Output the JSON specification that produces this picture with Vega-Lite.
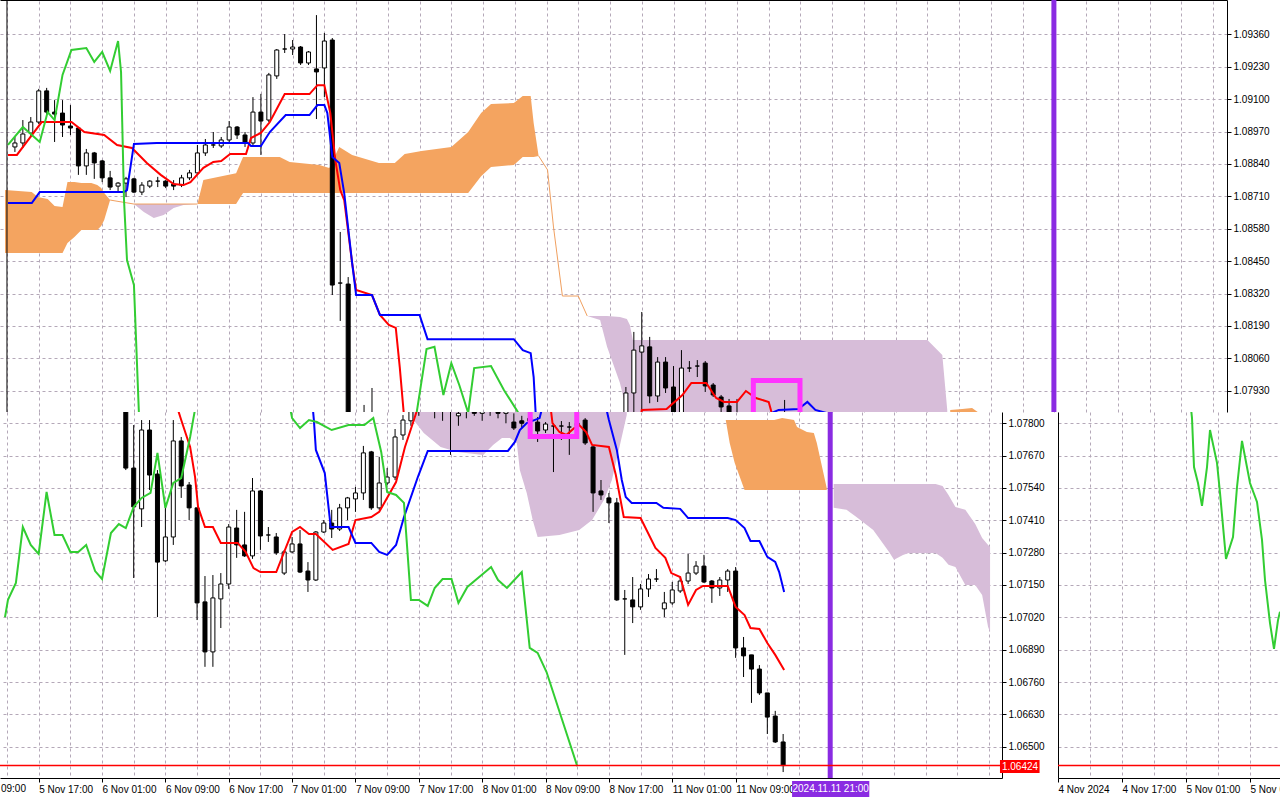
{
  "$schema": "https://vega.github.io/schema/vega-lite/v6.json",
  "background": "white",
  "padding": 0,
  "spacing": 0,
  "bounds": "flush",
  "config": {
    "view": {"stroke": null},
    "axis": {
      "title": null,
      "labelFont": "Liberation Sans",
      "labelFontSize": 10,
      "labelColor": "#000",
      "domainColor": "#000",
      "tickColor": "#000",
      "gridColor": "#b4a8b8",
      "gridDash": [3, 3],
      "gridOpacity": 1,
      "labelFlush": false,
      "labelOverlap": false,
      "tickCount": 200
    }
  },
  "datasets": {
    "topC": [
      {"x": 1, "o": 1.08908, "h": 1.08948, "l": 1.08888, "c": 1.08924},
      {"x": 2, "o": 1.08924, "h": 1.09016, "l": 1.08904, "c": 1.0896},
      {"x": 3, "o": 1.08964, "h": 1.09028, "l": 1.08952, "c": 1.09008},
      {"x": 4, "o": 1.09008, "h": 1.09141, "l": 1.09, "c": 1.09133},
      {"x": 5, "o": 1.09133, "h": 1.09145, "l": 1.09036, "c": 1.09048},
      {"x": 6, "o": 1.09048, "h": 1.09096, "l": 1.08928, "c": 1.0904},
      {"x": 7, "o": 1.09044, "h": 1.09096, "l": 1.08948, "c": 1.08996},
      {"x": 8, "o": 1.08992, "h": 1.09076, "l": 1.08956, "c": 1.08984},
      {"x": 9, "o": 1.08984, "h": 1.08988, "l": 1.08796, "c": 1.08832},
      {"x": 10, "o": 1.08832, "h": 1.089, "l": 1.08796, "c": 1.08884},
      {"x": 11, "o": 1.08884, "h": 1.08888, "l": 1.0878, "c": 1.08844},
      {"x": 12, "o": 1.08852, "h": 1.08856, "l": 1.08767, "c": 1.08784},
      {"x": 13, "o": 1.08784, "h": 1.08812, "l": 1.08735, "c": 1.08747},
      {"x": 14, "o": 1.08751, "h": 1.08767, "l": 1.08727, "c": 1.08763},
      {"x": 15, "o": 1.08763, "h": 1.08788, "l": 1.08707, "c": 1.0878},
      {"x": 16, "o": 1.0878, "h": 1.08784, "l": 1.08723, "c": 1.08727},
      {"x": 17, "o": 1.08727, "h": 1.08767, "l": 1.08715, "c": 1.08755},
      {"x": 18, "o": 1.08751, "h": 1.08775, "l": 1.08743, "c": 1.08771},
      {"x": 19, "o": 1.08771, "h": 1.08788, "l": 1.08747, "c": 1.08771},
      {"x": 20, "o": 1.08771, "h": 1.08775, "l": 1.08743, "c": 1.08751},
      {"x": 21, "o": 1.08759, "h": 1.08775, "l": 1.08735, "c": 1.08751},
      {"x": 22, "o": 1.08755, "h": 1.08796, "l": 1.08747, "c": 1.08784},
      {"x": 23, "o": 1.08784, "h": 1.08816, "l": 1.08775, "c": 1.08804},
      {"x": 24, "o": 1.08804, "h": 1.08916, "l": 1.08796, "c": 1.08884},
      {"x": 25, "o": 1.08884, "h": 1.0894, "l": 1.08872, "c": 1.08916},
      {"x": 26, "o": 1.08916, "h": 1.08968, "l": 1.08904, "c": 1.08916},
      {"x": 27, "o": 1.08912, "h": 1.08948, "l": 1.08904, "c": 1.08936},
      {"x": 28, "o": 1.08936, "h": 1.09012, "l": 1.08928, "c": 1.08988},
      {"x": 29, "o": 1.08988, "h": 1.08992, "l": 1.0894, "c": 1.08956},
      {"x": 30, "o": 1.08956, "h": 1.08968, "l": 1.08908, "c": 1.08928},
      {"x": 31, "o": 1.08924, "h": 1.09108, "l": 1.08908, "c": 1.09048},
      {"x": 32, "o": 1.09048, "h": 1.09121, "l": 1.08876, "c": 1.09012},
      {"x": 33, "o": 1.09016, "h": 1.09205, "l": 1.09008, "c": 1.09197},
      {"x": 34, "o": 1.09193, "h": 1.09301, "l": 1.09181, "c": 1.09297},
      {"x": 35, "o": 1.09301, "h": 1.09361, "l": 1.09285, "c": 1.09301},
      {"x": 36, "o": 1.09301, "h": 1.09337, "l": 1.09277, "c": 1.09309},
      {"x": 37, "o": 1.09309, "h": 1.09313, "l": 1.09237, "c": 1.09245},
      {"x": 38, "o": 1.09245, "h": 1.09293, "l": 1.09237, "c": 1.09289},
      {"x": 39, "o": 1.09221, "h": 1.09437, "l": 1.0902, "c": 1.09209},
      {"x": 40, "o": 1.09225, "h": 1.09365, "l": 1.09108, "c": 1.09333},
      {"x": 41, "o": 1.09337, "h": 1.09345, "l": 1.08314, "c": 1.08354},
      {"x": 42, "o": 1.08362, "h": 1.08567, "l": 1.0821, "c": 1.08362},
      {"x": 43, "o": 1.08358, "h": 1.08386, "l": 1.0775, "c": 1.078},
      {"x": 44, "o": 1.0779, "h": 1.0781, "l": 1.0772, "c": 1.0775},
      {"x": 45, "o": 1.0775, "h": 1.07873, "l": 1.077, "c": 1.0778},
      {"x": 46, "o": 1.0776, "h": 1.07941, "l": 1.077, "c": 1.0778},
      {"x": 78, "o": 1.07833, "h": 1.07945, "l": 1.078, "c": 1.07921},
      {"x": 79, "o": 1.07921, "h": 1.08166, "l": 1.07833, "c": 1.08093},
      {"x": 80, "o": 1.08085, "h": 1.08246, "l": 1.07833, "c": 1.0811},
      {"x": 81, "o": 1.08106, "h": 1.08146, "l": 1.0788, "c": 1.07909},
      {"x": 82, "o": 1.07909, "h": 1.08065, "l": 1.07885, "c": 1.08045},
      {"x": 83, "o": 1.08045, "h": 1.08065, "l": 1.07921, "c": 1.07941},
      {"x": 84, "o": 1.07945, "h": 1.08029, "l": 1.078, "c": 1.07833},
      {"x": 85, "o": 1.07833, "h": 1.08093, "l": 1.078, "c": 1.08021},
      {"x": 86, "o": 1.08021, "h": 1.08049, "l": 1.08005, "c": 1.08021},
      {"x": 87, "o": 1.08029, "h": 1.08053, "l": 1.07985, "c": 1.08029},
      {"x": 88, "o": 1.08041, "h": 1.08049, "l": 1.07925, "c": 1.07949},
      {"x": 89, "o": 1.07953, "h": 1.07961, "l": 1.07905, "c": 1.07913},
      {"x": 90, "o": 1.07905, "h": 1.07913, "l": 1.07841, "c": 1.07865},
      {"x": 91, "o": 1.07869, "h": 1.07897, "l": 1.078, "c": 1.07841},
      {"x": 92, "o": 1.0784, "h": 1.07897, "l": 1.078, "c": 1.0783},
      {"x": 98, "o": 1.0783, "h": 1.07893, "l": 1.078, "c": 1.0782}
    ],
    "topL": [
      {"s": "r", "x": 0.125, "y": 1.08876}, {"s": "r", "x": 1.25, "y": 1.08876}, {"s": "r", "x": 4.375, "y": 1.09008},
      {"s": "r", "x": 8.125, "y": 1.09008}, {"s": "r", "x": 9.75, "y": 1.08968}, {"s": "r", "x": 12.25, "y": 1.08956},
      {"s": "r", "x": 13.875, "y": 1.08916}, {"s": "r", "x": 15.75, "y": 1.08904}, {"s": "r", "x": 17.625, "y": 1.08844},
      {"s": "r", "x": 19.375, "y": 1.08796}, {"s": "r", "x": 21, "y": 1.08759}, {"s": "r", "x": 22.25, "y": 1.08755},
      {"s": "r", "x": 23.125, "y": 1.08767}, {"s": "r", "x": 24.75, "y": 1.08824}, {"s": "r", "x": 26, "y": 1.08848},
      {"s": "r", "x": 27, "y": 1.08852}, {"s": "r", "x": 28.125, "y": 1.0888}, {"s": "r", "x": 30.125, "y": 1.0888},
      {"s": "r", "x": 30.75, "y": 1.08944}, {"s": "r", "x": 32, "y": 1.08964}, {"s": "r", "x": 33.125, "y": 1.09008},
      {"s": "r", "x": 35, "y": 1.0912}, {"s": "r", "x": 38.125, "y": 1.0912}, {"s": "r", "x": 39.125, "y": 1.09156},
      {"s": "r", "x": 40, "y": 1.09156}, {"s": "r", "x": 40.75, "y": 1.09044}, {"s": "r", "x": 41.375, "y": 1.08856},
      {"s": "r", "x": 42, "y": 1.08735}, {"s": "r", "x": 42.5, "y": 1.08695}, {"s": "r", "x": 43.5, "y": 1.08442},
      {"s": "r", "x": 44, "y": 1.08334}, {"s": "r", "x": 46, "y": 1.08314}, {"s": "r", "x": 47, "y": 1.08234},
      {"s": "r", "x": 48.125, "y": 1.08194}, {"s": "r", "x": 49, "y": 1.08182}, {"s": "r", "x": 49.5, "y": 1.08025},
      {"s": "r", "x": 50, "y": 1.07841}, {"s": "r", "x": 50.25, "y": 1.0773}, {"s": "r", "x": 79.5, "y": 1.0773},
      {"s": "r", "x": 80, "y": 1.07853}, {"s": "r", "x": 83.125, "y": 1.07857}, {"s": "r", "x": 85.125, "y": 1.07913},
      {"s": "r", "x": 86.25, "y": 1.07961}, {"s": "r", "x": 88.125, "y": 1.07961}, {"s": "r", "x": 89.375, "y": 1.07901},
      {"s": "r", "x": 90.375, "y": 1.07885}, {"s": "r", "x": 92, "y": 1.07885}, {"s": "r", "x": 93.125, "y": 1.07929},
      {"s": "r", "x": 94.375, "y": 1.07901}, {"s": "r", "x": 96, "y": 1.07885}, {"s": "r", "x": 96.375, "y": 1.07841},
      {"s": "r", "x": 96.75, "y": 1.0773},
      {"s": "b", "x": 0.125, "y": 1.08683}, {"s": "b", "x": 3.125, "y": 1.08683}, {"s": "b", "x": 4.125, "y": 1.08727},
      {"s": "b", "x": 14.75, "y": 1.08727}, {"s": "b", "x": 15.125, "y": 1.08735}, {"s": "b", "x": 16, "y": 1.0892},
      {"s": "b", "x": 18.875, "y": 1.08924}, {"s": "b", "x": 30.375, "y": 1.08924}, {"s": "b", "x": 30.75, "y": 1.08912},
      {"s": "b", "x": 32, "y": 1.08912}, {"s": "b", "x": 33.125, "y": 1.08968}, {"s": "b", "x": 35.125, "y": 1.09036},
      {"s": "b", "x": 38.125, "y": 1.09036}, {"s": "b", "x": 39.125, "y": 1.09076}, {"s": "b", "x": 40, "y": 1.09076},
      {"s": "b", "x": 40.375, "y": 1.09044}, {"s": "b", "x": 41, "y": 1.08868}, {"s": "b", "x": 41.875, "y": 1.08844},
      {"s": "b", "x": 42.5, "y": 1.08723}, {"s": "b", "x": 43.5, "y": 1.08442}, {"s": "b", "x": 44, "y": 1.08314},
      {"s": "b", "x": 46, "y": 1.08314}, {"s": "b", "x": 47, "y": 1.08234}, {"s": "b", "x": 52, "y": 1.08234},
      {"s": "b", "x": 53, "y": 1.08137}, {"s": "b", "x": 63.875, "y": 1.08137}, {"s": "b", "x": 65, "y": 1.08093},
      {"s": "b", "x": 66, "y": 1.08081}, {"s": "b", "x": 66.375, "y": 1.07985}, {"s": "b", "x": 66.625, "y": 1.07841},
      {"s": "b", "x": 66.875, "y": 1.0773}, {"s": "b", "x": 96, "y": 1.0773}, {"s": "b", "x": 96.375, "y": 1.07841},
      {"s": "b", "x": 97.25, "y": 1.07853}, {"s": "b", "x": 99.75, "y": 1.07857}, {"s": "b", "x": 100.875, "y": 1.07885},
      {"s": "b", "x": 101.875, "y": 1.07853}, {"s": "b", "x": 103.25, "y": 1.07841}, {"s": "b", "x": 103.5, "y": 1.0773},
      {"s": "g", "x": 0.125, "y": 1.08916}, {"s": "g", "x": 2, "y": 1.08988}, {"s": "g", "x": 4.125, "y": 1.08928},
      {"s": "g", "x": 5.125, "y": 1.09048}, {"s": "g", "x": 6, "y": 1.09016}, {"s": "g", "x": 7, "y": 1.09197},
      {"s": "g", "x": 8.125, "y": 1.09297}, {"s": "g", "x": 10, "y": 1.09305}, {"s": "g", "x": 11, "y": 1.09249},
      {"s": "g", "x": 12, "y": 1.09289}, {"s": "g", "x": 13, "y": 1.09213}, {"s": "g", "x": 14, "y": 1.09333},
      {"s": "g", "x": 14.375, "y": 1.09209}, {"s": "g", "x": 14.75, "y": 1.08695}, {"s": "g", "x": 15.125, "y": 1.08454},
      {"s": "g", "x": 16, "y": 1.08354}, {"s": "g", "x": 16.625, "y": 1.07841}, {"s": "g", "x": 16.875, "y": 1.0773},
      {"s": "g", "x": 51.375, "y": 1.0773}, {"s": "g", "x": 51.625, "y": 1.07841}, {"s": "g", "x": 52.875, "y": 1.08097},
      {"s": "g", "x": 53.875, "y": 1.08106}, {"s": "g", "x": 55, "y": 1.07913}, {"s": "g", "x": 56, "y": 1.08041},
      {"s": "g", "x": 57, "y": 1.07953}, {"s": "g", "x": 58.125, "y": 1.07841}, {"s": "g", "x": 58.875, "y": 1.08021},
      {"s": "g", "x": 61, "y": 1.08029}, {"s": "g", "x": 62.625, "y": 1.07933}, {"s": "g", "x": 64.375, "y": 1.07845},
      {"s": "g", "x": 64.75, "y": 1.0773}
    ],
    "topThin": [
      {"s": "o1", "x": 13, "y": 1.08695}, {"s": "o1", "x": 16, "y": 1.08679}, {"s": "o1", "x": 24, "y": 1.08679},
      {"s": "o2", "x": 67, "y": 1.08872}, {"s": "o2", "x": 68.125, "y": 1.08816}, {"s": "o2", "x": 68.875, "y": 1.08587},
      {"s": "o2", "x": 70, "y": 1.0831}, {"s": "o2", "x": 72, "y": 1.0831}, {"s": "o2", "x": 73.125, "y": 1.0823}
    ],
    "topA": [
      {"g": "t1", "t": "up", "x": -0.25, "y": 1.08735, "y2": 1.08483},
      {"g": "t1", "t": "up", "x": 3.125, "y": 1.08727, "y2": 1.08483},
      {"g": "t1", "t": "up", "x": 3.875, "y": 1.08707, "y2": 1.08483},
      {"g": "t1", "t": "up", "x": 5.125, "y": 1.08699, "y2": 1.08483},
      {"g": "t1", "t": "up", "x": 6, "y": 1.08671, "y2": 1.08483},
      {"g": "t1", "t": "up", "x": 7, "y": 1.08667, "y2": 1.08483},
      {"g": "t1", "t": "up", "x": 7.625, "y": 1.08767, "y2": 1.08523},
      {"g": "t1", "t": "up", "x": 8.5, "y": 1.08767, "y2": 1.08547},
      {"g": "t1", "t": "up", "x": 9.375, "y": 1.08763, "y2": 1.08575},
      {"g": "t1", "t": "up", "x": 10.625, "y": 1.08763, "y2": 1.08575},
      {"g": "t1", "t": "up", "x": 11.375, "y": 1.08755, "y2": 1.08575},
      {"g": "t1", "t": "up", "x": 11.875, "y": 1.08743, "y2": 1.08591},
      {"g": "t1", "t": "up", "x": 12.25, "y": 1.08723, "y2": 1.08615},
      {"g": "t1", "t": "up", "x": 13, "y": 1.08695, "y2": 1.08695},
      {"g": "t2", "t": "dn", "x": 16, "y": 1.08679, "y2": 1.08679},
      {"g": "t2", "t": "dn", "x": 17.25, "y": 1.08679, "y2": 1.08647},
      {"g": "t2", "t": "dn", "x": 18.5, "y": 1.08679, "y2": 1.08623},
      {"g": "t2", "t": "dn", "x": 19.75, "y": 1.08679, "y2": 1.08635},
      {"g": "t2", "t": "dn", "x": 21, "y": 1.08679, "y2": 1.08663},
      {"g": "t2", "t": "dn", "x": 22.25, "y": 1.08679, "y2": 1.08675},
      {"g": "t2", "t": "dn", "x": 23.875, "y": 1.08679, "y2": 1.08679},
      {"g": "t3", "t": "up", "x": 24, "y": 1.08679, "y2": 1.08679},
      {"g": "t3", "t": "up", "x": 24.75, "y": 1.08775, "y2": 1.08679},
      {"g": "t3", "t": "up", "x": 28.875, "y": 1.08803, "y2": 1.08679},
      {"g": "t3", "t": "up", "x": 29.75, "y": 1.08868, "y2": 1.08723},
      {"g": "t3", "t": "up", "x": 34.375, "y": 1.08868, "y2": 1.08723},
      {"g": "t3", "t": "up", "x": 35.625, "y": 1.08848, "y2": 1.08723},
      {"g": "t3", "t": "up", "x": 39.375, "y": 1.08836, "y2": 1.08723},
      {"g": "t3", "t": "up", "x": 40.625, "y": 1.08824, "y2": 1.08723},
      {"g": "t3", "t": "up", "x": 41.875, "y": 1.08908, "y2": 1.08723},
      {"g": "t3", "t": "up", "x": 43.5, "y": 1.08876, "y2": 1.08723},
      {"g": "t3", "t": "up", "x": 46.875, "y": 1.08844, "y2": 1.08723},
      {"g": "t3", "t": "up", "x": 48.875, "y": 1.08844, "y2": 1.08723},
      {"g": "t3", "t": "up", "x": 50.125, "y": 1.0888, "y2": 1.08723},
      {"g": "t3", "t": "up", "x": 52.25, "y": 1.08892, "y2": 1.08723},
      {"g": "t3", "t": "up", "x": 56, "y": 1.08908, "y2": 1.08723},
      {"g": "t3", "t": "up", "x": 58.125, "y": 1.08968, "y2": 1.08723},
      {"g": "t3", "t": "up", "x": 59.75, "y": 1.09044, "y2": 1.08791},
      {"g": "t3", "t": "up", "x": 61, "y": 1.0908, "y2": 1.08828},
      {"g": "t3", "t": "up", "x": 63.875, "y": 1.09084, "y2": 1.08836},
      {"g": "t3", "t": "up", "x": 65, "y": 1.09112, "y2": 1.08868},
      {"g": "t3", "t": "up", "x": 66, "y": 1.09112, "y2": 1.08868},
      {"g": "t3", "t": "up", "x": 66.375, "y": 1.09004, "y2": 1.08868},
      {"g": "t3", "t": "up", "x": 67, "y": 1.08872, "y2": 1.08872},
      {"g": "t4", "t": "dn", "x": 73.125, "y": 1.0823, "y2": 1.0823},
      {"g": "t4", "t": "dn", "x": 74.75, "y": 1.0823, "y2": 1.08214},
      {"g": "t4", "t": "dn", "x": 75.625, "y": 1.0823, "y2": 1.08106},
      {"g": "t4", "t": "dn", "x": 77.25, "y": 1.08226, "y2": 1.07961},
      {"g": "t4", "t": "dn", "x": 78.125, "y": 1.08218, "y2": 1.07845},
      {"g": "t4", "t": "dn", "x": 78.5, "y": 1.08194, "y2": 1.0773},
      {"g": "t4", "t": "dn", "x": 78.875, "y": 1.08134, "y2": 1.0773},
      {"g": "t4", "t": "dn", "x": 116, "y": 1.08134, "y2": 1.0773},
      {"g": "t4", "t": "dn", "x": 117.875, "y": 1.08073, "y2": 1.0773},
      {"g": "t4", "t": "dn", "x": 118.5, "y": 1.07853, "y2": 1.0773},
      {"g": "t5", "t": "up", "x": 118.875, "y": 1.07853, "y2": 1.0773},
      {"g": "t5", "t": "up", "x": 120.375, "y": 1.07857, "y2": 1.0773},
      {"g": "t5", "t": "up", "x": 121.625, "y": 1.07861, "y2": 1.0773},
      {"g": "t5", "t": "up", "x": 122.5, "y": 1.07841, "y2": 1.0773}
    ],
    "botC": [
      {"x": 11, "o": 1.07874, "h": 1.079, "l": 1.07612, "c": 1.0762},
      {"x": 12, "o": 1.0762, "h": 1.07793, "l": 1.07178, "c": 1.07464},
      {"x": 13, "o": 1.07456, "h": 1.07813, "l": 1.07383, "c": 1.07773},
      {"x": 14, "o": 1.07773, "h": 1.07813, "l": 1.07532, "c": 1.07592},
      {"x": 15, "o": 1.07596, "h": 1.07612, "l": 1.07021, "c": 1.07242},
      {"x": 16, "o": 1.07247, "h": 1.07472, "l": 1.07242, "c": 1.07343},
      {"x": 17, "o": 1.07343, "h": 1.07813, "l": 1.07311, "c": 1.07729},
      {"x": 18, "o": 1.07729, "h": 1.07745, "l": 1.075, "c": 1.07548},
      {"x": 19, "o": 1.07552, "h": 1.07564, "l": 1.07411, "c": 1.0746},
      {"x": 20, "o": 1.0746, "h": 1.0746, "l": 1.07009, "c": 1.07078},
      {"x": 21, "o": 1.07082, "h": 1.07186, "l": 1.06821, "c": 1.06881},
      {"x": 22, "o": 1.06881, "h": 1.0719, "l": 1.06821, "c": 1.07098},
      {"x": 23, "o": 1.07094, "h": 1.07198, "l": 1.06977, "c": 1.07154},
      {"x": 24, "o": 1.07154, "h": 1.07395, "l": 1.07134, "c": 1.07383},
      {"x": 25, "o": 1.07379, "h": 1.07452, "l": 1.07259, "c": 1.07311},
      {"x": 26, "o": 1.07311, "h": 1.07444, "l": 1.07263, "c": 1.07267},
      {"x": 27, "o": 1.07267, "h": 1.0758, "l": 1.07255, "c": 1.07528},
      {"x": 28, "o": 1.07528, "h": 1.07532, "l": 1.07291, "c": 1.07347},
      {"x": 29, "o": 1.07351, "h": 1.07383, "l": 1.07323, "c": 1.07351},
      {"x": 30, "o": 1.07343, "h": 1.07359, "l": 1.07271, "c": 1.07279},
      {"x": 31, "o": 1.07198, "h": 1.07291, "l": 1.0719, "c": 1.07283},
      {"x": 32, "o": 1.07283, "h": 1.07343, "l": 1.07279, "c": 1.07315},
      {"x": 33, "o": 1.07315, "h": 1.07371, "l": 1.07198, "c": 1.07202},
      {"x": 34, "o": 1.07206, "h": 1.07242, "l": 1.07122, "c": 1.0717},
      {"x": 35, "o": 1.0717, "h": 1.07367, "l": 1.07166, "c": 1.07363},
      {"x": 36, "o": 1.07363, "h": 1.07411, "l": 1.07359, "c": 1.07399},
      {"x": 37, "o": 1.07399, "h": 1.07452, "l": 1.07339, "c": 1.07375},
      {"x": 38, "o": 1.07375, "h": 1.07476, "l": 1.07367, "c": 1.0746},
      {"x": 39, "o": 1.0746, "h": 1.07504, "l": 1.07411, "c": 1.075},
      {"x": 40, "o": 1.07496, "h": 1.07544, "l": 1.07444, "c": 1.0752},
      {"x": 41, "o": 1.0752, "h": 1.07709, "l": 1.07492, "c": 1.07681},
      {"x": 42, "o": 1.07685, "h": 1.07689, "l": 1.07452, "c": 1.0746},
      {"x": 43, "o": 1.0746, "h": 1.07665, "l": 1.07452, "c": 1.0756},
      {"x": 44, "o": 1.0756, "h": 1.0762, "l": 1.07552, "c": 1.07584},
      {"x": 45, "o": 1.07584, "h": 1.07777, "l": 1.07572, "c": 1.07745},
      {"x": 46, "o": 1.07753, "h": 1.07833, "l": 1.07733, "c": 1.07813},
      {"x": 47, "o": 1.0781, "h": 1.0788, "l": 1.0779, "c": 1.0785},
      {"x": 48, "o": 1.0786, "h": 1.079, "l": 1.0783, "c": 1.0788},
      {"x": 49, "o": 1.0788, "h": 1.0791, "l": 1.0785, "c": 1.0786},
      {"x": 50, "o": 1.0786, "h": 1.079, "l": 1.0782, "c": 1.0787},
      {"x": 51, "o": 1.0787, "h": 1.079, "l": 1.0781, "c": 1.0786},
      {"x": 52, "o": 1.0786, "h": 1.0789, "l": 1.07673, "c": 1.0785},
      {"x": 53, "o": 1.0783, "h": 1.0786, "l": 1.0779, "c": 1.0784},
      {"x": 54, "o": 1.0785, "h": 1.0789, "l": 1.0782, "c": 1.0786},
      {"x": 55, "o": 1.0786, "h": 1.0789, "l": 1.0783, "c": 1.0784},
      {"x": 56, "o": 1.0784, "h": 1.0788, "l": 1.0781, "c": 1.0786},
      {"x": 57, "o": 1.0786, "h": 1.0789, "l": 1.0783, "c": 1.0785},
      {"x": 58, "o": 1.0785, "h": 1.0788, "l": 1.0782, "c": 1.0784},
      {"x": 59, "o": 1.0784, "h": 1.0787, "l": 1.078, "c": 1.0785},
      {"x": 60, "o": 1.07805, "h": 1.0784, "l": 1.07773, "c": 1.07781},
      {"x": 61, "o": 1.0781, "h": 1.0783, "l": 1.0778, "c": 1.078},
      {"x": 62, "o": 1.0781, "h": 1.0785, "l": 1.0779, "c": 1.0782},
      {"x": 63, "o": 1.07805, "h": 1.07825, "l": 1.07725, "c": 1.07769},
      {"x": 64, "o": 1.07773, "h": 1.07805, "l": 1.07761, "c": 1.07797},
      {"x": 65, "o": 1.07789, "h": 1.07801, "l": 1.07604, "c": 1.07789},
      {"x": 66, "o": 1.07789, "h": 1.07809, "l": 1.07733, "c": 1.07789},
      {"x": 67, "o": 1.07785, "h": 1.07805, "l": 1.07673, "c": 1.07785},
      {"x": 68, "o": 1.0779, "h": 1.0782, "l": 1.0776, "c": 1.078},
      {"x": 69, "o": 1.07813, "h": 1.07821, "l": 1.07713, "c": 1.07721},
      {"x": 70, "o": 1.07705, "h": 1.07713, "l": 1.07444, "c": 1.0752},
      {"x": 71, "o": 1.07528, "h": 1.07572, "l": 1.07492, "c": 1.07512},
      {"x": 72, "o": 1.075, "h": 1.0752, "l": 1.07399, "c": 1.0748},
      {"x": 73, "o": 1.0748, "h": 1.075, "l": 1.07086, "c": 1.0709},
      {"x": 74, "o": 1.07094, "h": 1.0713, "l": 1.06869, "c": 1.07094},
      {"x": 75, "o": 1.0709, "h": 1.07182, "l": 1.06997, "c": 1.07062},
      {"x": 76, "o": 1.07062, "h": 1.07154, "l": 1.0705, "c": 1.07134},
      {"x": 77, "o": 1.07134, "h": 1.07194, "l": 1.07102, "c": 1.07174},
      {"x": 78, "o": 1.07174, "h": 1.07214, "l": 1.07162, "c": 1.07174},
      {"x": 79, "o": 1.07054, "h": 1.07122, "l": 1.07021, "c": 1.07078},
      {"x": 80, "o": 1.07078, "h": 1.07162, "l": 1.0707, "c": 1.0713},
      {"x": 81, "o": 1.07126, "h": 1.07182, "l": 1.07118, "c": 1.07166},
      {"x": 82, "o": 1.07166, "h": 1.07275, "l": 1.07154, "c": 1.07198},
      {"x": 83, "o": 1.07198, "h": 1.07246, "l": 1.0719, "c": 1.07226},
      {"x": 84, "o": 1.07226, "h": 1.07271, "l": 1.07158, "c": 1.07162},
      {"x": 85, "o": 1.07166, "h": 1.0717, "l": 1.07078, "c": 1.07138},
      {"x": 86, "o": 1.07138, "h": 1.07182, "l": 1.07106, "c": 1.0717},
      {"x": 87, "o": 1.0717, "h": 1.07214, "l": 1.07122, "c": 1.07206},
      {"x": 88, "o": 1.07206, "h": 1.07222, "l": 1.06857, "c": 1.06897},
      {"x": 89, "o": 1.06897, "h": 1.06941, "l": 1.0678, "c": 1.06865},
      {"x": 90, "o": 1.06869, "h": 1.06869, "l": 1.06676, "c": 1.06812},
      {"x": 91, "o": 1.06812, "h": 1.06828, "l": 1.06708, "c": 1.06716},
      {"x": 92, "o": 1.06716, "h": 1.06716, "l": 1.06551, "c": 1.06619},
      {"x": 93, "o": 1.06623, "h": 1.06644, "l": 1.06515, "c": 1.06519},
      {"x": 94, "o": 1.06519, "h": 1.06551, "l": 1.06398, "c": 1.06424}
    ],
    "botL": [
      {"s": "r", "x": 17, "y": 1.07914}, {"s": "r", "x": 18, "y": 1.07813}, {"s": "r", "x": 19.125, "y": 1.07705},
      {"s": "r", "x": 19.75, "y": 1.07584}, {"s": "r", "x": 20.125, "y": 1.07464}, {"s": "r", "x": 21, "y": 1.07383},
      {"s": "r", "x": 22, "y": 1.07383}, {"s": "r", "x": 23, "y": 1.07319}, {"s": "r", "x": 25.125, "y": 1.07319},
      {"s": "r", "x": 26.125, "y": 1.07283}, {"s": "r", "x": 27.125, "y": 1.07218}, {"s": "r", "x": 28, "y": 1.07202},
      {"s": "r", "x": 30, "y": 1.07202}, {"s": "r", "x": 31, "y": 1.07283}, {"s": "r", "x": 32, "y": 1.07363},
      {"s": "r", "x": 33, "y": 1.07383}, {"s": "r", "x": 34.125, "y": 1.07355}, {"s": "r", "x": 35, "y": 1.07355},
      {"s": "r", "x": 37.125, "y": 1.07291}, {"s": "r", "x": 39.125, "y": 1.07315}, {"s": "r", "x": 40, "y": 1.07411},
      {"s": "r", "x": 42, "y": 1.07423}, {"s": "r", "x": 43, "y": 1.07444}, {"s": "r", "x": 45.125, "y": 1.07564},
      {"s": "r", "x": 46.25, "y": 1.07705}, {"s": "r", "x": 47.375, "y": 1.07813}, {"s": "r", "x": 48.25, "y": 1.079},
      {"s": "r", "x": 64.5, "y": 1.079}, {"s": "r", "x": 64.875, "y": 1.07801}, {"s": "r", "x": 65.75, "y": 1.07765},
      {"s": "r", "x": 66.625, "y": 1.07753}, {"s": "r", "x": 67.625, "y": 1.07781}, {"s": "r", "x": 68.25, "y": 1.07793},
      {"s": "r", "x": 69.125, "y": 1.07765}, {"s": "r", "x": 69.875, "y": 1.07713}, {"s": "r", "x": 72, "y": 1.07705},
      {"s": "r", "x": 72.875, "y": 1.07592}, {"s": "r", "x": 73.875, "y": 1.07423}, {"s": "r", "x": 76, "y": 1.07419},
      {"s": "r", "x": 77.875, "y": 1.07299}, {"s": "r", "x": 79.125, "y": 1.07259}, {"s": "r", "x": 79.875, "y": 1.07198},
      {"s": "r", "x": 81, "y": 1.07182}, {"s": "r", "x": 82, "y": 1.0707}, {"s": "r", "x": 83, "y": 1.0713},
      {"s": "r", "x": 83.875, "y": 1.07146}, {"s": "r", "x": 87, "y": 1.07146}, {"s": "r", "x": 88, "y": 1.07062},
      {"s": "r", "x": 89.125, "y": 1.07029}, {"s": "r", "x": 89.875, "y": 1.06977}, {"s": "r", "x": 91, "y": 1.06973},
      {"s": "r", "x": 92, "y": 1.06917}, {"s": "r", "x": 93, "y": 1.06869}, {"s": "r", "x": 94.125, "y": 1.06808},
      {"s": "b", "x": 34.5, "y": 1.079}, {"s": "b", "x": 34.75, "y": 1.07813}, {"s": "b", "x": 35, "y": 1.07693},
      {"s": "b", "x": 36.125, "y": 1.076}, {"s": "b", "x": 36.875, "y": 1.07383}, {"s": "b", "x": 39.125, "y": 1.07383},
      {"s": "b", "x": 40, "y": 1.07319}, {"s": "b", "x": 42, "y": 1.07319}, {"s": "b", "x": 43, "y": 1.07283},
      {"s": "b", "x": 44, "y": 1.07271}, {"s": "b", "x": 45.125, "y": 1.07311}, {"s": "b", "x": 46.125, "y": 1.07423},
      {"s": "b", "x": 47.875, "y": 1.07584}, {"s": "b", "x": 49.125, "y": 1.07689}, {"s": "b", "x": 59.25, "y": 1.07689},
      {"s": "b", "x": 60.125, "y": 1.07725}, {"s": "b", "x": 60.75, "y": 1.07773}, {"s": "b", "x": 61.625, "y": 1.07801},
      {"s": "b", "x": 63.25, "y": 1.07821}, {"s": "b", "x": 63.875, "y": 1.079}, {"s": "b", "x": 71.375, "y": 1.079},
      {"s": "b", "x": 72, "y": 1.07813}, {"s": "b", "x": 73, "y": 1.07693}, {"s": "b", "x": 73.625, "y": 1.07572},
      {"s": "b", "x": 74.125, "y": 1.07504}, {"s": "b", "x": 74.875, "y": 1.0748}, {"s": "b", "x": 78, "y": 1.0748},
      {"s": "b", "x": 78.875, "y": 1.0746}, {"s": "b", "x": 81, "y": 1.07456}, {"s": "b", "x": 82, "y": 1.07419},
      {"s": "b", "x": 87, "y": 1.07419}, {"s": "b", "x": 88, "y": 1.07411}, {"s": "b", "x": 89.125, "y": 1.07379},
      {"s": "b", "x": 89.875, "y": 1.07327}, {"s": "b", "x": 91, "y": 1.07327}, {"s": "b", "x": 92, "y": 1.07263},
      {"s": "b", "x": 93, "y": 1.07243}, {"s": "b", "x": 93.5, "y": 1.07202}, {"s": "b", "x": 94.125, "y": 1.07122},
      {"s": "g", "x": -4.25, "y": 1.07021}, {"s": "g", "x": -3.875, "y": 1.0709}, {"s": "g", "x": -2.875, "y": 1.07158},
      {"s": "g", "x": -2, "y": 1.07383}, {"s": "g", "x": -1, "y": 1.07311}, {"s": "g", "x": 0, "y": 1.07275},
      {"s": "g", "x": 1, "y": 1.07524}, {"s": "g", "x": 2, "y": 1.07351}, {"s": "g", "x": 3, "y": 1.07351},
      {"s": "g", "x": 4, "y": 1.07283}, {"s": "g", "x": 5, "y": 1.07283}, {"s": "g", "x": 6, "y": 1.07311},
      {"s": "g", "x": 7.125, "y": 1.07206}, {"s": "g", "x": 8, "y": 1.07174}, {"s": "g", "x": 9.125, "y": 1.07359},
      {"s": "g", "x": 10.125, "y": 1.07395}, {"s": "g", "x": 11, "y": 1.07379}, {"s": "g", "x": 12, "y": 1.07464},
      {"s": "g", "x": 13, "y": 1.075}, {"s": "g", "x": 14.125, "y": 1.0752}, {"s": "g", "x": 15, "y": 1.07681},
      {"s": "g", "x": 16, "y": 1.0746}, {"s": "g", "x": 17, "y": 1.0756}, {"s": "g", "x": 18, "y": 1.0758},
      {"s": "g", "x": 19.125, "y": 1.07745}, {"s": "g", "x": 19.5, "y": 1.07813}, {"s": "g", "x": 20, "y": 1.079},
      {"s": "g", "x": 31.5, "y": 1.079}, {"s": "g", "x": 32, "y": 1.07821}, {"s": "g", "x": 33, "y": 1.07781},
      {"s": "g", "x": 34.125, "y": 1.07813}, {"s": "g", "x": 35.125, "y": 1.07805}, {"s": "g", "x": 37, "y": 1.07773},
      {"s": "g", "x": 39.125, "y": 1.07793}, {"s": "g", "x": 41.125, "y": 1.07793}, {"s": "g", "x": 42.25, "y": 1.07821},
      {"s": "g", "x": 43.25, "y": 1.07685}, {"s": "g", "x": 44, "y": 1.07524}, {"s": "g", "x": 45.125, "y": 1.07512},
      {"s": "g", "x": 46.125, "y": 1.0748}, {"s": "g", "x": 47, "y": 1.0709}, {"s": "g", "x": 48, "y": 1.0709},
      {"s": "g", "x": 49.125, "y": 1.07066}, {"s": "g", "x": 50, "y": 1.07138}, {"s": "g", "x": 51, "y": 1.07174},
      {"s": "g", "x": 52.125, "y": 1.07174}, {"s": "g", "x": 53, "y": 1.07078}, {"s": "g", "x": 54.125, "y": 1.07142},
      {"s": "g", "x": 57.125, "y": 1.07222}, {"s": "g", "x": 58, "y": 1.0717}, {"s": "g", "x": 59.125, "y": 1.07138},
      {"s": "g", "x": 61, "y": 1.07202}, {"s": "g", "x": 62, "y": 1.06897}, {"s": "g", "x": 63, "y": 1.06877},
      {"s": "g", "x": 64.125, "y": 1.068}, {"s": "g", "x": 68, "y": 1.06422}
    ],
    "botA": [
      {"g": "c1", "t": "dn", "x": 46.75, "y": 1.079, "y2": 1.07837},
      {"g": "c1", "t": "dn", "x": 48.625, "y": 1.079, "y2": 1.07761},
      {"g": "c1", "t": "dn", "x": 50.75, "y": 1.079, "y2": 1.07705},
      {"g": "c1", "t": "dn", "x": 52.875, "y": 1.079, "y2": 1.07685},
      {"g": "c1", "t": "dn", "x": 56.125, "y": 1.079, "y2": 1.07673},
      {"g": "c1", "t": "dn", "x": 57.375, "y": 1.079, "y2": 1.07713},
      {"g": "c1", "t": "dn", "x": 58.5, "y": 1.079, "y2": 1.07741},
      {"g": "c1", "t": "dn", "x": 59.5, "y": 1.079, "y2": 1.07741},
      {"g": "c1", "t": "dn", "x": 60.375, "y": 1.079, "y2": 1.07721},
      {"g": "c1", "t": "dn", "x": 60.75, "y": 1.079, "y2": 1.07612},
      {"g": "c1", "t": "dn", "x": 61.625, "y": 1.079, "y2": 1.0752},
      {"g": "c1", "t": "dn", "x": 62.375, "y": 1.079, "y2": 1.07411},
      {"g": "c1", "t": "dn", "x": 63, "y": 1.079, "y2": 1.07343},
      {"g": "c1", "t": "dn", "x": 65.75, "y": 1.079, "y2": 1.07351},
      {"g": "c1", "t": "dn", "x": 68.25, "y": 1.079, "y2": 1.07371},
      {"g": "c1", "t": "dn", "x": 69.875, "y": 1.079, "y2": 1.07411},
      {"g": "c1", "t": "dn", "x": 71.375, "y": 1.079, "y2": 1.07492},
      {"g": "c1", "t": "dn", "x": 72.375, "y": 1.079, "y2": 1.07572},
      {"g": "c1", "t": "dn", "x": 73.25, "y": 1.079, "y2": 1.07693},
      {"g": "c1", "t": "dn", "x": 74.25, "y": 1.079, "y2": 1.07833},
      {"g": "c2", "t": "up", "x": 86.75, "y": 1.07813, "y2": 1.07813},
      {"g": "c2", "t": "up", "x": 87.25, "y": 1.07813, "y2": 1.07721},
      {"g": "c2", "t": "up", "x": 87.875, "y": 1.07813, "y2": 1.07641},
      {"g": "c2", "t": "up", "x": 89.125, "y": 1.07813, "y2": 1.07532},
      {"g": "c2", "t": "up", "x": 92.875, "y": 1.07813, "y2": 1.07532},
      {"g": "c2", "t": "up", "x": 93.875, "y": 1.07821, "y2": 1.07532},
      {"g": "c2", "t": "up", "x": 95.375, "y": 1.07813, "y2": 1.07532},
      {"g": "c2", "t": "up", "x": 95.75, "y": 1.07785, "y2": 1.07532},
      {"g": "c2", "t": "up", "x": 97, "y": 1.07765, "y2": 1.07532},
      {"g": "c2", "t": "up", "x": 97.875, "y": 1.07761, "y2": 1.07532},
      {"g": "c2", "t": "up", "x": 98.25, "y": 1.07721, "y2": 1.07532},
      {"g": "c2", "t": "up", "x": 99.5, "y": 1.0754, "y2": 1.07532},
      {"g": "c3", "t": "dn", "x": 100.375, "y": 1.07556, "y2": 1.0746},
      {"g": "c3", "t": "dn", "x": 102, "y": 1.07556, "y2": 1.07452},
      {"g": "c3", "t": "dn", "x": 103.25, "y": 1.07556, "y2": 1.07423},
      {"g": "c3", "t": "dn", "x": 105.375, "y": 1.07556, "y2": 1.07371},
      {"g": "c3", "t": "dn", "x": 107.375, "y": 1.07556, "y2": 1.07283},
      {"g": "c3", "t": "dn", "x": 108, "y": 1.07556, "y2": 1.07251},
      {"g": "c3", "t": "dn", "x": 109.125, "y": 1.07556, "y2": 1.07271},
      {"g": "c3", "t": "dn", "x": 109.875, "y": 1.07556, "y2": 1.07279},
      {"g": "c3", "t": "dn", "x": 113.25, "y": 1.07556, "y2": 1.07279},
      {"g": "c3", "t": "dn", "x": 114.125, "y": 1.07548, "y2": 1.07259},
      {"g": "c3", "t": "dn", "x": 114.875, "y": 1.07512, "y2": 1.07231},
      {"g": "c3", "t": "dn", "x": 115.75, "y": 1.07464, "y2": 1.07222},
      {"g": "c3", "t": "dn", "x": 117, "y": 1.07452, "y2": 1.0715},
      {"g": "c3", "t": "dn", "x": 118.25, "y": 1.07395, "y2": 1.0715},
      {"g": "c3", "t": "dn", "x": 119.125, "y": 1.07339, "y2": 1.0711},
      {"g": "c3", "t": "dn", "x": 119.875, "y": 1.07311, "y2": 1.06981},
      {"g": "c3", "t": "dn", "x": 120.125, "y": 1.07303, "y2": 1.06961}
    ],
    "rgtL": [
      {"x": 16.5, "y": 1.079}, {"x": 16.75, "y": 1.07821}, {"x": 17, "y": 1.07624}, {"x": 17.5, "y": 1.0756},
      {"x": 18, "y": 1.07468}, {"x": 18.625, "y": 1.07624}, {"x": 19, "y": 1.07773}, {"x": 19.875, "y": 1.07641},
      {"x": 20.25, "y": 1.0752}, {"x": 21, "y": 1.07255}, {"x": 21.875, "y": 1.07343}, {"x": 22.375, "y": 1.07544},
      {"x": 23, "y": 1.07729}, {"x": 24, "y": 1.0756}, {"x": 24.875, "y": 1.07484}, {"x": 25.5, "y": 1.07331},
      {"x": 25.875, "y": 1.0717}, {"x": 26.5, "y": 1.06997}, {"x": 27, "y": 1.06893}, {"x": 27.5, "y": 1.07009},
      {"x": 27.75, "y": 1.07042}
    ]
  },
  "vconcat": [
    {
      "width": 1227,
      "height": 412,
      "layer": [
        {
          "data": {"name": "topA"},
          "mark": {"type": "area", "orient": "vertical", "clip": true},
          "encoding": {
            "x": {"field": "x", "type": "quantitative", "scale": {"domain": [-0.25, 153.125], "nice": false, "zero": false},
              "axis": {"orient": "top", "values": [0, 4, 8, 12, 16, 20, 24, 28, 32, 36, 40, 44, 48, 52, 56, 60, 64, 68, 72, 76, 80, 84, 88, 92, 96, 100, 104, 108, 112, 116, 120, 124, 128, 132, 136, 140, 144, 148, 152], "labels": false, "ticks": false, "domain": true, "grid": true}},
            "y": {"field": "y", "type": "quantitative", "scale": {"domain": [1.078447, 1.094976], "nice": false, "zero": false},
              "axis": {"orient": "right", "values": [1.0793, 1.0806, 1.0819, 1.0832, 1.0845, 1.0858, 1.0871, 1.0884, 1.0897, 1.091, 1.0923, 1.0936], "format": ".5f", "tickSize": 4, "labelPadding": 2, "grid": true}},
            "y2": {"field": "y2"},
            "detail": {"field": "g"},
            "fill": {"field": "t", "type": "nominal", "scale": {"domain": ["up", "dn"], "range": ["#f4a460", "#d7bdd9"]}, "legend": null}
          }
        },
        {
          "data": {"name": "topThin"},
          "mark": {"type": "line", "strokeWidth": 1, "color": "#f0a060", "clip": true},
          "encoding": {
            "x": {"field": "x", "type": "quantitative", "scale": {"domain": [-0.25, 153.125], "nice": false, "zero": false}},
            "y": {"field": "y", "type": "quantitative", "scale": {"domain": [1.078447, 1.094976], "nice": false, "zero": false}},
            "detail": {"field": "s"}
          }
        },
        {
          "data": {"name": "topC"},
          "mark": {"type": "rule", "color": "#000", "strokeWidth": 1, "clip": true},
          "encoding": {
            "x": {"field": "x", "type": "quantitative", "scale": {"domain": [-0.25, 153.125], "nice": false, "zero": false}},
            "y": {"field": "l", "type": "quantitative", "scale": {"domain": [1.078447, 1.094976], "nice": false, "zero": false}},
            "y2": {"field": "h"}
          }
        },
        {
          "data": {"name": "topC"},
          "mark": {"type": "bar", "size": 4, "stroke": "#000", "strokeWidth": 1, "clip": true},
          "encoding": {
            "x": {"field": "x", "type": "quantitative", "scale": {"domain": [-0.25, 153.125], "nice": false, "zero": false}},
            "y": {"field": "o", "type": "quantitative", "scale": {"domain": [1.078447, 1.094976], "nice": false, "zero": false}},
            "y2": {"field": "c"},
            "fill": {"condition": {"test": "datum.o > datum.c", "value": "#000"}, "value": "#fff"}
          }
        },
        {
          "data": {"name": "topL"},
          "mark": {"type": "line", "strokeWidth": 2, "clip": true},
          "encoding": {
            "x": {"field": "x", "type": "quantitative", "scale": {"domain": [-0.25, 153.125], "nice": false, "zero": false}},
            "y": {"field": "y", "type": "quantitative", "scale": {"domain": [1.078447, 1.094976], "nice": false, "zero": false}},
            "stroke": {"field": "s", "type": "nominal", "scale": {"domain": ["r", "b", "g"], "range": ["#ff0000", "#0000ff", "#32cd32"]}, "legend": null}
          }
        },
        {
          "data": {"values": [{}]},
          "mark": {"type": "rect", "fill": null, "fillOpacity": 0, "stroke": "#ff33ff", "strokeWidth": 5, "clip": true},
          "encoding": {
            "x": {"datum": 94.06, "type": "quantitative", "scale": {"domain": [-0.25, 153.125], "nice": false, "zero": false}},
            "x2": {"datum": 99.94},
            "y": {"datum": 1.07971, "type": "quantitative", "scale": {"domain": [1.078447, 1.094976], "nice": false, "zero": false}},
            "y2": {"datum": 1.077}
          }
        },
        {
          "data": {"values": [{}]},
          "mark": {"type": "rule", "color": "#8a2be2", "strokeWidth": 5, "clip": true},
          "encoding": {
            "x": {"datum": 131.94, "type": "quantitative", "scale": {"domain": [-0.25, 153.125], "nice": false, "zero": false}}
          }
        },
        {
          "data": {"values": [{}]},
          "mark": {"type": "rule", "color": "#000", "strokeWidth": 1, "clip": true},
          "encoding": {
            "x": {"datum": 0, "type": "quantitative", "scale": {"domain": [-0.25, 153.125], "nice": false, "zero": false}}
          }
        }
      ]
    },
    {
      "hconcat": [
        {
          "width": 1002,
          "height": 366,
          "layer": [
            {
              "data": {"name": "botA"},
              "mark": {"type": "area", "orient": "vertical", "clip": true},
              "encoding": {
                "x": {"field": "x", "type": "quantitative", "scale": {"domain": [-4.25, 121], "nice": false, "zero": false},
                  "axis": {"orient": "bottom", "values": [-4, 0, 4, 8, 12, 16, 20, 24, 28, 32, 36, 40, 44, 48, 52, 56, 60, 64, 68, 72, 76, 80, 84, 88, 92, 96, 100, 104, 108, 112, 116, 120],
                    "labelExpr": "['5 Nov 17:00','6 Nov 01:00','6 Nov 09:00','6 Nov 17:00','7 Nov 01:00','7 Nov 09:00','7 Nov 17:00','8 Nov 01:00','8 Nov 09:00','8 Nov 17:00','11 Nov 01:00','11 Nov 09:00'][datum.value / 8] || ''",
                    "labelAlign": "left", "labelPadding": 2, "tickSize": 4,
                    "tickColor": {"condition": {"test": "datum.value % 8 === 0 && datum.value >= 0 && datum.value <= 88", "value": "#000"}, "value": "transparent"},
                    "grid": true, "domain": true}},
                "y": {"field": "y", "type": "quantitative", "scale": {"domain": [1.063741, 1.078454], "nice": false, "zero": false},
                  "axis": {"orient": "right", "values": [1.065, 1.0663, 1.0676, 1.0689, 1.0702, 1.0715, 1.0728, 1.0741, 1.0754, 1.0767, 1.078], "format": ".5f", "tickSize": 4, "labelPadding": 2, "grid": true}},
                "y2": {"field": "y2"},
                "detail": {"field": "g"},
                "fill": {"field": "t", "type": "nominal", "scale": {"domain": ["up", "dn"], "range": ["#f4a460", "#d7bdd9"]}, "legend": null}
              }
            },
            {
              "data": {"name": "botC"},
              "mark": {"type": "rule", "color": "#000", "strokeWidth": 1, "clip": true},
              "encoding": {
                "x": {"field": "x", "type": "quantitative", "scale": {"domain": [-4.25, 121], "nice": false, "zero": false}},
                "y": {"field": "l", "type": "quantitative", "scale": {"domain": [1.063741, 1.078454], "nice": false, "zero": false}},
                "y2": {"field": "h"}
              }
            },
            {
              "data": {"name": "botC"},
              "mark": {"type": "bar", "size": 4, "stroke": "#000", "strokeWidth": 1, "clip": true},
              "encoding": {
                "x": {"field": "x", "type": "quantitative", "scale": {"domain": [-4.25, 121], "nice": false, "zero": false}},
                "y": {"field": "o", "type": "quantitative", "scale": {"domain": [1.063741, 1.078454], "nice": false, "zero": false}},
                "y2": {"field": "c"},
                "fill": {"condition": {"test": "datum.o > datum.c", "value": "#000"}, "value": "#fff"}
              }
            },
            {
              "data": {"name": "botL"},
              "mark": {"type": "line", "strokeWidth": 2, "clip": true},
              "encoding": {
                "x": {"field": "x", "type": "quantitative", "scale": {"domain": [-4.25, 121], "nice": false, "zero": false}},
                "y": {"field": "y", "type": "quantitative", "scale": {"domain": [1.063741, 1.078454], "nice": false, "zero": false}},
                "stroke": {"field": "s", "type": "nominal", "scale": {"domain": ["r", "b", "g"], "range": ["#ff0000", "#0000ff", "#32cd32"]}, "legend": null}
              }
            },
            {
              "data": {"values": [{}]},
              "mark": {"type": "rect", "fill": null, "fillOpacity": 0, "stroke": "#ff33ff", "strokeWidth": 5, "clip": true},
              "encoding": {
                "x": {"datum": 62.06, "type": "quantitative", "scale": {"domain": [-4.25, 121], "nice": false, "zero": false}},
                "x2": {"datum": 67.94},
                "y": {"datum": 1.0792, "type": "quantitative", "scale": {"domain": [1.063741, 1.078454], "nice": false, "zero": false}},
                "y2": {"datum": 1.07747}
              }
            },
            {
              "data": {"values": [{}]},
              "mark": {"type": "rule", "color": "#8a2be2", "strokeWidth": 5, "clip": true},
              "encoding": {
                "x": {"datum": 99.94, "type": "quantitative", "scale": {"domain": [-4.25, 121], "nice": false, "zero": false}}
              }
            },
            {
              "data": {"values": [{}]},
              "mark": {"type": "rule", "color": "#ff0000", "strokeWidth": 1.5, "clip": true},
              "encoding": {
                "y": {"datum": 1.06424, "type": "quantitative", "scale": {"domain": [1.063741, 1.078454], "nice": false, "zero": false}}
              }
            },
            {
              "data": {"values": [{}]},
              "mark": {"type": "rect", "color": "#ff0000", "clip": false},
              "encoding": {
                "x": {"datum": 121.375, "type": "quantitative", "scale": {"domain": [-4.25, 121], "nice": false, "zero": false}},
                "x2": {"datum": 126.375},
                "y": {"datum": 1.06394, "type": "quantitative", "scale": {"domain": [1.063741, 1.078454], "nice": false, "zero": false}},
                "y2": {"datum": 1.06446}
              }
            },
            {
              "data": {"values": [{}]},
              "mark": {"type": "text", "color": "#fff", "font": "Liberation Sans", "fontSize": 10, "align": "left", "baseline": "middle", "dx": 2, "clip": false},
              "encoding": {
                "x": {"datum": 121.375, "type": "quantitative", "scale": {"domain": [-4.25, 121], "nice": false, "zero": false}},
                "y": {"datum": 1.0642, "type": "quantitative", "scale": {"domain": [1.063741, 1.078454], "nice": false, "zero": false}},
                "text": {"value": "1.06424"}
              }
            },
            {
              "data": {"values": [{}]},
              "mark": {"type": "rect", "color": "#8a2be2", "clip": false},
              "encoding": {
                "x": {"datum": 95.125, "type": "quantitative", "scale": {"domain": [-4.25, 121], "nice": false, "zero": false}},
                "x2": {"datum": 104.875},
                "y": {"datum": 1.06298, "type": "quantitative", "scale": {"domain": [1.063741, 1.078454], "nice": false, "zero": false}},
                "y2": {"datum": 1.06362}
              }
            },
            {
              "data": {"values": [{}]},
              "mark": {"type": "text", "color": "#fff", "font": "Liberation Sans", "fontSize": 10, "align": "center", "baseline": "middle", "clip": false},
              "encoding": {
                "x": {"datum": 100, "type": "quantitative", "scale": {"domain": [-4.25, 121], "nice": false, "zero": false}},
                "y": {"datum": 1.0633, "type": "quantitative", "scale": {"domain": [1.063741, 1.078454], "nice": false, "zero": false}},
                "text": {"value": "2024.11.11 21:00"}
              }
            },
            {
              "data": {"values": [{}]},
              "mark": {"type": "text", "color": "#000", "font": "Liberation Sans", "fontSize": 10, "align": "right", "baseline": "middle", "clip": false},
              "encoding": {
                "x": {"datum": -1.6, "type": "quantitative", "scale": {"domain": [-4.25, 121], "nice": false, "zero": false}},
                "y": {"datum": 1.0633, "type": "quantitative", "scale": {"domain": [1.063741, 1.078454], "nice": false, "zero": false}},
                "text": {"value": "09:00"}
              }
            }
          ]
        },
        {
          "width": 222,
          "height": 366,
          "layer": [
            {
              "data": {"name": "rgtL"},
              "mark": {"type": "line", "strokeWidth": 2, "color": "#32cd32", "clip": true},
              "encoding": {
                "x": {"field": "x", "type": "quantitative", "scale": {"domain": [0, 27.75], "nice": false, "zero": false},
                  "axis": {"orient": "bottom", "values": [0, 4, 8, 12, 16, 20, 24],
                    "labelExpr": "['4 Nov 2024','4 Nov 17:00','5 Nov 01:00','5 Nov 09:00'][datum.value / 8] || ''",
                    "labelAlign": "left", "labelPadding": 2, "tickSize": 4,
                    "tickColor": {"condition": {"test": "datum.value % 8 === 0", "value": "#000"}, "value": "transparent"},
                    "grid": true, "domain": true}},
                "y": {"field": "y", "type": "quantitative", "scale": {"domain": [1.063741, 1.078454], "nice": false, "zero": false},
                  "axis": {"orient": "left", "values": [1.065, 1.0663, 1.0676, 1.0689, 1.0702, 1.0715, 1.0728, 1.0741, 1.0754, 1.0767, 1.078], "labels": false, "ticks": false, "domain": true, "grid": true}}
              }
            },
            {
              "data": {"values": [{}]},
              "mark": {"type": "rule", "color": "#ff0000", "strokeWidth": 1.5, "clip": true},
              "encoding": {
                "y": {"datum": 1.06424, "type": "quantitative", "scale": {"domain": [1.063741, 1.078454], "nice": false, "zero": false}}
              }
            }
          ]
        }
      ],
      "spacing": 56,
      "bounds": "flush"
    }
  ]
}
